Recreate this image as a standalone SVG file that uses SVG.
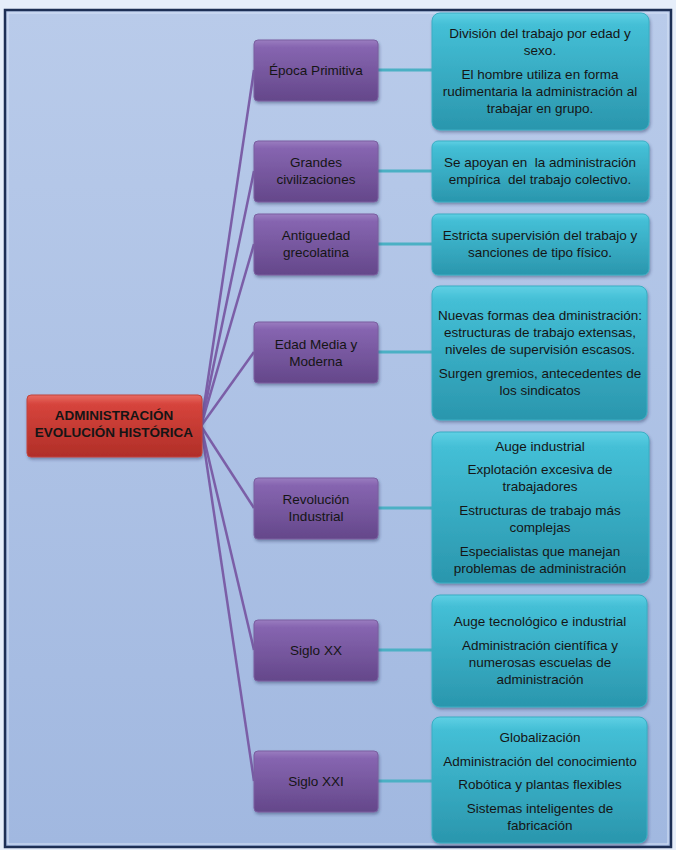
<svg xmlns="http://www.w3.org/2000/svg" width="676" height="850" viewBox="0 0 676 850">
<defs>
<linearGradient id="bg" x1="0" y1="0" x2="0" y2="1">
<stop offset="0" stop-color="#b9cbea"/><stop offset="1" stop-color="#a1b8e0"/>
</linearGradient>
<linearGradient id="gPurple" x1="0" y1="0" x2="0" y2="1">
<stop offset="0" stop-color="#9a7cc0"/><stop offset="0.12" stop-color="#8665b0"/><stop offset="1" stop-color="#64478a"/>
</linearGradient>
<linearGradient id="gTeal" x1="0" y1="0" x2="0" y2="1">
<stop offset="0" stop-color="#5fd0e4"/><stop offset="0.1" stop-color="#44bfd6"/><stop offset="1" stop-color="#2a96ad"/>
</linearGradient>
<linearGradient id="gRed" x1="0" y1="0" x2="0" y2="1">
<stop offset="0" stop-color="#e86b63"/><stop offset="0.15" stop-color="#d6443c"/><stop offset="1" stop-color="#b02e28"/>
</linearGradient>
<filter id="sh" x="-10%" y="-10%" width="120%" height="130%">
<feDropShadow dx="1" dy="2" stdDeviation="1.5" flood-color="#2a3d66" flood-opacity="0.45"/>
</filter>
</defs>
<style>
text{font-family:"Liberation Sans",Arial,sans-serif;font-size:13.5px;fill:#151515;text-anchor:middle;white-space:pre}
.root text{font-weight:bold;font-size:13.5px}
.p rect{fill:url(#gPurple);stroke:#7a5fa0;stroke-width:1}
.t rect{fill:url(#gTeal);stroke:#3aaec4;stroke-width:1}
.conn line{stroke:#7b5ea7;stroke-width:2.5}
.conn .c2{stroke:#4bb0c4;stroke-width:3}
</style>
<rect x="0" y="0" width="676" height="850" fill="#e6eefa"/>
<rect x="5" y="10" width="666" height="837" fill="url(#bg)" stroke="#1d2f55" stroke-width="2.5"/>
<rect x="8" y="13" width="660" height="831" fill="none" stroke="#d6e2f5" stroke-width="1"/>

<g id="connectors" class="conn">
<line x1="201" y1="426" x2="254" y2="70"/>
<line x1="201" y1="426" x2="254" y2="171"/>
<line x1="201" y1="426" x2="254" y2="244"/>
<line x1="201" y1="426" x2="254" y2="352"/>
<line x1="201" y1="426" x2="254" y2="508"/>
<line x1="201" y1="426" x2="254" y2="650"/>
<line x1="201" y1="426" x2="254" y2="781"/>
<line class="c2" x1="378" y1="70" x2="432" y2="70"/>
<line class="c2" x1="378" y1="171" x2="432" y2="171"/>
<line class="c2" x1="378" y1="244" x2="432" y2="244"/>
<line class="c2" x1="378" y1="352" x2="432" y2="352"/>
<line class="c2" x1="378" y1="508" x2="432" y2="508"/>
<line class="c2" x1="378" y1="650" x2="432" y2="650"/>
<line class="c2" x1="378" y1="781" x2="432" y2="781"/>
</g>

<g id="root" class="root">
<rect x="27" y="395" width="175" height="62" rx="4" fill="url(#gRed)" stroke="#c0443d" filter="url(#sh)"/>
<text x="114" y="420">ADMINISTRACIÓN</text>
<text x="114" y="437">EVOLUCIÓN HISTÓRICA</text>
</g>

<g id="p1" class="p"><rect x="254" y="40" width="124" height="61" rx="4" filter="url(#sh)"/><text x="316" y="75">Época Primitiva</text></g>
<g id="p2" class="p"><rect x="254" y="141" width="124" height="61" rx="4" filter="url(#sh)"/><text x="316" y="167">Grandes</text><text x="316" y="184">civilizaciones</text></g>
<g id="p3" class="p"><rect x="254" y="214" width="124" height="61" rx="4" filter="url(#sh)"/><text x="316" y="240">Antiguedad</text><text x="316" y="257">grecolatina</text></g>
<g id="p4" class="p"><rect x="254" y="322" width="124" height="61" rx="4" filter="url(#sh)"/><text x="316" y="349">Edad Media y</text><text x="316" y="366">Moderna</text></g>
<g id="p5" class="p"><rect x="254" y="478" width="124" height="61" rx="4" filter="url(#sh)"/><text x="316" y="504">Revolución</text><text x="316" y="521">Industrial</text></g>
<g id="p6" class="p"><rect x="254" y="620" width="124" height="61" rx="4" filter="url(#sh)"/><text x="316" y="655">Siglo XX</text></g>
<g id="p7" class="p"><rect x="254" y="751" width="124" height="61" rx="4" filter="url(#sh)"/><text x="316" y="786">Siglo XXI</text></g>

<g id="t1" class="t"><rect x="432" y="13" width="217" height="117" rx="8" filter="url(#sh)"/>
<text x="540" y="38">División del trabajo por edad y</text><text x="540" y="55">sexo.</text>
<text x="540" y="79">El hombre utiliza en forma</text><text x="540" y="96">rudimentaria la administración al</text><text x="540" y="113">trabajar en grupo.</text></g>
<g id="t2" class="t"><rect x="432" y="141" width="217" height="61" rx="6" filter="url(#sh)"/>
<text x="540" y="167" xml:space="preserve">Se apoyan en  la administración</text><text x="540" y="184" xml:space="preserve">empírica  del trabajo colectivo.</text></g>
<g id="t3" class="t"><rect x="432" y="214" width="217" height="61" rx="6" filter="url(#sh)"/>
<text x="540" y="240">Estricta supervisión del trabajo y</text><text x="540" y="257">sanciones de tipo físico.</text></g>
<g id="t4" class="t"><rect x="432" y="286" width="215" height="134" rx="8" filter="url(#sh)"/>
<text x="540" y="320">Nuevas formas dea dministración:</text><text x="540" y="337">estructuras de trabajo extensas,</text><text x="540" y="354">niveles de supervisión escasos.</text>
<text x="540" y="378">Surgen gremios, antecedentes de</text><text x="540" y="395">los sindicatos</text></g>
<g id="t5" class="t"><rect x="432" y="432" width="217" height="151" rx="8" filter="url(#sh)"/>
<text x="540" y="451">Auge industrial</text>
<text x="540" y="474">Explotación excesiva de</text><text x="540" y="491">trabajadores</text>
<text x="540" y="515">Estructuras de trabajo más</text><text x="540" y="532">complejas</text>
<text x="540" y="556">Especialistas que manejan</text><text x="540" y="573">problemas de administración</text></g>
<g id="t6" class="t"><rect x="432" y="595" width="215" height="112" rx="8" filter="url(#sh)"/>
<text x="540" y="626">Auge tecnológico e industrial</text>
<text x="540" y="650">Administración científica y</text><text x="540" y="667">numerosas escuelas de</text><text x="540" y="684">administración</text></g>
<g id="t7" class="t"><rect x="432" y="717" width="215" height="126" rx="8" filter="url(#sh)"/>
<text x="540" y="742">Globalización</text>
<text x="540" y="766">Administración del conocimiento</text>
<text x="540" y="789">Robótica y plantas flexibles</text>
<text x="540" y="813">Sistemas inteligentes de</text><text x="540" y="830">fabricación</text></g>
</svg>
